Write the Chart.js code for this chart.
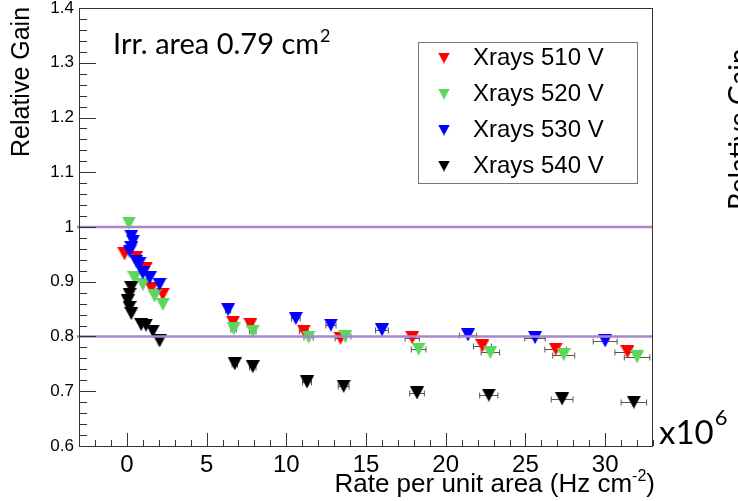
<!DOCTYPE html>
<html>
<head>
<meta charset="utf-8">
<script src="https://cdn.jsdelivr.net/npm/chart.js@4/dist/chart.umd.min.js"></script>
<style>
  html, body { margin: 0; padding: 0; background: #fff; }
</style>
</head>
<body>
<canvas id="myChart" width="738" height="501"></canvas>
<script>
// series labels and colours
const seriesNames = ['Xrays 510 V', 'Xrays 520 V', 'Xrays 530 V', 'Xrays 540 V'];
const seriesColors = ['#ff0000', '#5cd65c', '#0000ff', '#000000'];

// rate (x1e6 Hz cm-2), relative gain, rate error
const x510 = [-0.15, 0.6, 1.2, 1.55, 2.25, 6.66, 7.75, 11.1, 13.4, 17.9, 22.3, 26.9, 31.4];
const y510 = [0.951, 0.945, 0.925, 0.888, 0.877, 0.826, 0.822, 0.810, 0.797, 0.798, 0.783, 0.777, 0.772];
const e510 = [0.01, 0.02, 0.03, 0.04, 0.06, 0.17, 0.2, 0.28, 0.34, 0.45, 0.56, 0.68, 0.79];

const x520 = [0.13, 0.48, 1.0, 1.74, 2.26, 6.7, 7.9, 11.4, 13.7, 18.3, 22.8, 27.4, 32.0];
const y520 = [1.007, 0.907, 0.895, 0.874, 0.859, 0.814, 0.810, 0.799, 0.800, 0.777, 0.771, 0.767, 0.763];
const e520 = [0.01, 0.02, 0.03, 0.05, 0.06, 0.17, 0.2, 0.29, 0.35, 0.46, 0.58, 0.69, 0.8];

const x530 = [0.28, 0.38, 0.28, 0.17, 0.59, 0.8, 1.0, 1.43, 2.05, 6.35, 10.6, 12.8, 16.0, 21.4, 25.6, 30.0];
const y530 = [0.983, 0.974, 0.962, 0.956, 0.937, 0.934, 0.916, 0.907, 0.895, 0.849, 0.833, 0.821, 0.812, 0.803, 0.798, 0.792];
const e530 = [0.01, 0.01, 0.01, 0.01, 0.02, 0.02, 0.03, 0.04, 0.05, 0.16, 0.27, 0.32, 0.4, 0.54, 0.64, 0.75];

const x540 = [0.28, 0.17, 0.06, 0.17, 0.28, 0.9, 1.2, 1.63, 2.05, 6.77, 7.9, 11.3, 13.6, 18.2, 22.7, 27.3, 31.8];
const y540 = [0.889, 0.877, 0.865, 0.853, 0.842, 0.822, 0.821, 0.810, 0.792, 0.750, 0.745, 0.717, 0.709, 0.697, 0.693, 0.686, 0.680];
const e540 = [0.01, 0.01, 0.01, 0.01, 0.01, 0.02, 0.03, 0.04, 0.05, 0.17, 0.2, 0.28, 0.34, 0.46, 0.57, 0.68, 0.8];

const xTickVals = [0, 5, 10, 15, 20, 25, 30];
const yTickVals = [0.6, 0.7, 0.8, 0.9, 1.0, 1.1, 1.2, 1.3, 1.4];
const yTickLabels = ['0.6', '0.7', '0.8', '0.9', '1', '1.1', '1.2', '1.3', '1.4'];
const refLines = [1.0, 0.8];

const xs = [x510, x520, x530, x540];
const ys = [y510, y520, y530, y540];
const errs = [e510, e520, e530, e540];

// downward triangle marker, centred on its box like the ROOT marker
function triangle(color, w, h) {
    const c = document.createElement('canvas');
    c.width = w;
    c.height = h;
    const g = c.getContext('2d');
    g.fillStyle = color;
    g.beginPath();
    g.moveTo(0, 0);
    g.lineTo(w, 0);
    g.lineTo(w / 2, h);
    g.closePath();
    g.fill();
    return c;
}

const datasets = seriesNames.map(function (name, i) {
    return {
        label: name,
        data: xs[i].map((x, j) => ({ x: x, y: ys[i][j] })),
        pointStyle: triangle(seriesColors[i], 14, 13),
        pointRadius: 7,
        backgroundColor: seriesColors[i],
        borderColor: seriesColors[i],
        showLine: false,
        order: 4 - i,
    };
});

const sansFont = '"Liberation Sans", Arial, sans-serif';
const calFont = 'Lato, "Open Sans", sans-serif';

const decorations = {
    id: 'decorations',
    beforeDatasetsDraw(chart) {
        const ctx = chart.ctx;
        const sx = chart.scales.x, sy = chart.scales.y;
        ctx.save();
        ctx.strokeStyle = '#555';
        ctx.lineWidth = 1;
        xs.forEach(function (arr, i) {
            arr.forEach(function (x, j) {
                const a = sx.getPixelForValue(x - errs[i][j]);
                const b = sx.getPixelForValue(x + errs[i][j]);
                const py = Math.round(sy.getPixelForValue(ys[i][j])) + 0.5;
                ctx.beginPath();
                ctx.moveTo(a, py); ctx.lineTo(b, py);
                ctx.moveTo(a, py - 3); ctx.lineTo(a, py + 3);
                ctx.moveTo(b, py - 3); ctx.lineTo(b, py + 3);
                ctx.stroke();
            });
        });
        ctx.restore();
    },
    afterDatasetsDraw(chart) {
        const ctx = chart.ctx;
        const area = chart.chartArea, sy = chart.scales.y;
        ctx.save();
        ctx.strokeStyle = '#a887cc';
        ctx.lineWidth = 2.5;
        refLines.forEach(function (v) {
            const py = sy.getPixelForValue(v);
            ctx.beginPath();
            ctx.moveTo(area.left - 2, py);
            ctx.lineTo(area.right, py);
            ctx.stroke();
        });
        ctx.restore();
    },
    afterDraw(chart) {
        const ctx = chart.ctx;
        const area = chart.chartArea;
        const sx = chart.scales.x, sy = chart.scales.y;
        ctx.save();

        // frame
        ctx.strokeStyle = '#333';
        ctx.lineWidth = 1;
        ctx.strokeRect(area.left + 0.5, area.top + 0.5, area.right - area.left - 1, area.bottom - area.top);

        // inward ticks
        ctx.beginPath();
        for (let v = -3; v <= 33; v++) {
            const px = Math.round(sx.getPixelForValue(v)) + 0.5;
            const len = (v % 5 === 0) ? 13 : 6;
            ctx.moveTo(px, area.bottom);
            ctx.lineTo(px, area.bottom - len);
        }
        for (let k = 0; k <= 40; k++) {
            const v = 0.6 + k * 0.02;
            const py = Math.round(sy.getPixelForValue(v)) + 0.5;
            const len = (k % 5 === 0) ? 17 : 8;
            ctx.moveTo(area.left, py);
            ctx.lineTo(area.left + len, py);
        }
        ctx.stroke();

        // axis titles
        ctx.fillStyle = '#000';
        ctx.textBaseline = 'alphabetic';
        ctx.save();
        ctx.translate(29, 157);
        ctx.rotate(-Math.PI / 2);
        ctx.font = '25px ' + sansFont;
        ctx.textAlign = 'left';
        ctx.fillText('Relative Gain', 0, 0);
        ctx.restore();

        ctx.font = '26px ' + sansFont;
        const t1 = 'Rate per unit area (Hz cm';
        const w1 = ctx.measureText(t1).width;
        const w3 = ctx.measureText(')').width;
        ctx.font = '16px ' + sansFont;
        const w2 = ctx.measureText('-2').width;
        let x0 = 655 - (w1 + w2 + w3);
        ctx.textAlign = 'left';
        ctx.font = '26px ' + sansFont;
        ctx.fillText(t1, x0, 492);
        ctx.font = '16px ' + sansFont;
        ctx.fillText('-2', x0 + w1, 481);
        ctx.font = '26px ' + sansFont;
        ctx.fillText(')', x0 + w1 + w2, 492);

        // annotation text
        ctx.font = '29px ' + calFont;
        const ta = 'Irr. area 0.79 cm';
        ctx.fillText(ta, 113, 54);
        const wa = ctx.measureText(ta).width;
        ctx.font = '18px ' + calFont;
        ctx.fillText('2', 113 + wa + 1, 42);

        ctx.font = '33px ' + calFont;
        ctx.fillText('x10', 659, 444);
        const wx = ctx.measureText('x10').width;
        ctx.font = '22px ' + calFont;
        ctx.fillText('6', 659 + wx + 1, 425);

        // cut-off title of the neighbouring panel
        ctx.save();
        ctx.translate(749, 210);
        ctx.rotate(-Math.PI / 2);
        ctx.font = '28px ' + calFont;
        ctx.fillText('Relative Gain', 0, 0);
        ctx.restore();

        // legend
        ctx.fillStyle = '#fff';
        ctx.fillRect(418, 42, 219, 141);
        ctx.strokeStyle = '#777';
        ctx.strokeRect(418.5, 42.5, 219, 141);
        ctx.font = '24px ' + sansFont;
        ctx.textBaseline = 'middle';
        seriesNames.forEach(function (name, i) {
            const cy = 57.5 + i * 36;
            ctx.drawImage(triangle(seriesColors[i], 12, 11), 438, cy - 5);
            ctx.fillStyle = '#000';
            ctx.fillText(name, 473, cy + 1);
        });

        ctx.restore();
    }
};

const ctx = document.getElementById('myChart').getContext('2d');
const myChart = new Chart(ctx, {
    type: 'scatter',
    data: { datasets: datasets },
    options: {
        responsive: false,
        animation: false,
        devicePixelRatio: 1,
        layout: { padding: { left: 0, right: 85, top: 6, bottom: 0 } },
        plugins: {
            legend: { display: false },
            tooltip: { enabled: false },
        },
        scales: {
            x: {
                type: 'linear',
                min: -3,
                max: 33,
                grid: { display: false, drawTicks: false },
                border: { display: false },
                afterBuildTicks: (s) => { s.ticks = xTickVals.map(v => ({ value: v })); },
                afterFit: (s) => { s.height = 55; s.paddingLeft = 0; s.paddingRight = 0; },
                ticks: {
                    color: '#000',
                    padding: 5,
                    maxRotation: 0,
                    autoSkip: false,
                    font: { family: sansFont, size: 24 },
                },
            },
            y: {
                type: 'linear',
                min: 0.6,
                max: 1.4,
                grid: { display: false, drawTicks: false },
                border: { display: false },
                afterBuildTicks: (s) => { s.ticks = yTickVals.map(v => ({ value: v })); },
                afterFit: (s) => { s.width = 79; s.paddingTop = 0; s.paddingBottom = 0; },
                ticks: {
                    color: '#000',
                    padding: 5,
                    autoSkip: false,
                    font: { family: sansFont, size: 17 },
                    callback: (v, i) => yTickLabels[i],
                },
            },
        },
    },
    plugins: [decorations],
});
</script>
</body>
</html>
